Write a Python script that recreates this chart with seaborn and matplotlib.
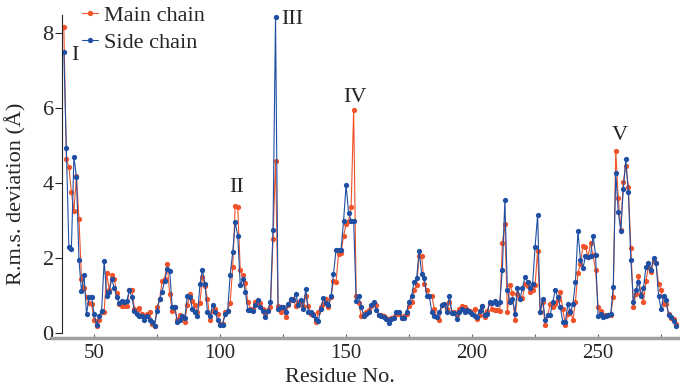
import matplotlib
matplotlib.use('Agg')
import matplotlib.pyplot as plt
import seaborn as sns
import pandas as pd

# r.m.s. deviation per residue
first_residue = 38
main_chain = [
    8.15, 4.63, 4.43, 3.75, 3.25, 4.20, 3.05, 1.45, 1.20, 0.95,
    0.80, 0.78, 0.35, 0.18, 0.35, 0.55, 0.57, 1.60, 1.15, 1.55,
    1.45, 1.07, 0.77, 0.73, 0.72, 0.72, 1.15, 1.15, 0.65, 0.62,
    0.68, 0.50, 0.45, 0.50, 0.55, 0.25, 0.20, 0.70, 0.90, 1.38,
    1.45, 1.85, 1.05, 0.60, 0.70, 0.35, 0.48, 0.40, 0.30, 0.75,
    1.05, 0.85, 0.75, 0.55, 0.80, 1.50, 1.25, 0.90, 0.35, 0.60,
    0.65, 0.50, 0.25, 0.25, 0.55, 0.60, 0.80, 1.75, 3.38, 3.35,
    1.68, 1.55, 1.34, 0.83, 0.65, 0.65, 0.83, 0.78, 0.80, 0.65,
    0.52, 0.61, 0.70, 2.50, 4.60, 0.72, 0.57, 0.61, 0.44, 0.75,
    0.88, 0.92, 0.72, 0.83, 0.85, 0.72, 0.99, 0.72, 0.50, 0.52,
    0.30, 0.57, 0.70, 0.77, 0.92, 0.70, 0.95, 1.39, 1.35, 2.10,
    2.14, 2.59, 2.90, 3.00, 3.35, 5.95, 0.99,
    0.80, 0.45, 0.52, 0.55, 0.62, 0.72, 0.78, 0.75, 0.48, 0.47,
    0.45, 0.40, 0.35, 0.40, 0.42, 0.50, 0.52, 0.40, 0.45, 0.52,
    0.72, 0.83, 1.15, 1.28, 2.05, 2.05, 1.30, 1.15, 0.99, 0.99,
    0.65, 0.43, 0.35, 0.75, 0.78, 0.65, 0.83, 0.57, 0.57, 0.48,
    0.65, 0.72, 0.70, 0.62, 0.60, 0.52, 0.65, 0.38, 0.48, 0.72,
    0.43, 0.60, 0.80, 0.65, 0.62, 0.62, 0.60, 2.39, 2.91, 0.57,
    1.28, 1.08, 0.35, 1.05, 0.93, 0.93, 1.30, 1.26, 1.10, 1.15,
    1.28, 2.20, 0.57, 0.83, 0.21, 0.48, 0.77, 0.70, 0.77, 0.88,
    1.10, 0.63, 0.21, 0.50, 0.60, 0.35, 0.83, 1.60, 1.85, 2.33,
    2.30, 2.02, 2.40, 2.07, 1.68, 0.70, 0.60, 0.48, 0.48, 0.48,
    0.48, 0.95, 4.86, 3.61, 2.75, 4.03, 4.46, 3.90, 2.26, 0.70,
    1.04, 1.51, 1.05, 0.83, 1.40, 1.77, 1.62, 1.93, 1.86, 1.30,
    1.15, 0.77, 0.77, 0.52, 0.39, 0.37, 0.25,
]
side_chain = [
    7.49, 4.94, 2.30, 2.25, 4.70, 4.15, 1.95, 1.12, 1.55, 0.50,
    0.95, 0.97, 0.50, 0.22, 0.45, 0.60, 1.92, 1.00, 1.10, 1.45,
    1.20, 0.95, 0.80, 0.85, 0.82, 0.85, 1.15, 0.95, 0.60, 0.50,
    0.45, 0.45, 0.35, 0.45, 0.35, 0.30, 0.20, 0.60, 0.90, 1.10,
    1.40, 1.70, 1.65, 0.70, 0.70, 0.30, 0.35, 0.45, 0.40, 0.98,
    0.95, 0.65, 0.55, 0.45, 1.30, 1.68, 1.30, 0.55, 0.45, 0.75,
    0.55, 0.35, 0.22, 0.22, 0.50, 0.60, 1.55, 2.15, 2.95, 2.60,
    1.28, 1.43, 1.10, 0.61, 0.61, 0.60, 0.75, 0.88, 0.70, 0.58,
    0.43, 0.58, 0.83, 2.75, 8.43, 0.65, 0.70, 0.70, 0.57, 0.77,
    0.90, 0.88, 1.05, 0.75, 0.88, 0.65, 1.17, 0.57, 0.57, 0.48,
    0.38, 0.33, 0.65, 0.93, 0.80, 0.75, 0.98, 1.57, 2.21, 2.21,
    2.22, 2.99, 3.95, 3.20, 3.00, 2.99, 0.85,
    1.00, 0.70, 0.45, 0.50, 0.55, 0.75, 0.83, 0.62, 0.47, 0.45,
    0.43, 0.38, 0.26, 0.38, 0.40, 0.55, 0.57, 0.40, 0.40, 0.57,
    0.83, 0.99, 1.37, 1.46, 2.19, 1.57, 1.46, 0.99, 0.98, 0.57,
    0.45, 0.43, 0.55, 0.75, 0.77, 0.57, 1.00, 0.53, 0.53, 0.38,
    0.57, 0.65, 0.57, 0.62, 0.55, 0.50, 0.45, 0.43, 0.60, 0.72,
    0.47, 0.52, 0.83, 0.80, 0.85, 0.78, 0.83, 1.68, 3.55, 1.15,
    0.83, 0.92, 0.52, 1.20, 0.92, 1.20, 1.50, 1.37, 1.20, 1.30,
    2.30, 3.15, 0.55, 0.92, 0.35, 0.48, 0.48, 0.83, 1.15, 0.95,
    0.70, 0.30, 0.30, 0.77, 0.57, 0.77, 1.35, 2.72, 1.96, 1.73,
    2.05, 2.04, 2.05, 2.60, 2.07, 0.45, 0.50, 0.42, 0.46, 0.48,
    0.50, 1.22, 4.27, 3.23, 2.73, 3.83, 4.63, 3.75, 1.96, 0.83,
    1.15, 1.35, 0.99, 1.20, 1.75, 1.86, 1.68, 2.01, 1.86, 1.00,
    0.63, 1.00, 0.88, 0.48, 0.43, 0.33, 0.20,
]
residues = list(range(first_residue, first_residue + len(main_chain)))

region_names = ['I', 'II', 'III', 'IV', 'V']

df = pd.DataFrame({'Residue': residues, 'Main chain': main_chain, 'Side chain': side_chain})

sns.set_style('ticks')
plt.rcParams['font.family'] = ['Liberation Serif', 'DejaVu Serif']

fig = plt.figure(figsize=(6.8, 3.87), dpi=100)
ax = fig.add_axes([52 / 680, 49 / 387, 628 / 680, 323 / 387])

sns.lineplot(data=df, x='Residue', y='Main chain', ax=ax, color='#f0522a',
             linewidth=0.8, marker='o', markersize=3.8, markeredgewidth=0,
             label='Main chain')
sns.lineplot(data=df, x='Residue', y='Side chain', ax=ax, color='#1f4fa3',
             linewidth=0.8, marker='o', markersize=3.8, markeredgewidth=0,
             label='Side chain')

ax.set_xlim(33.3, 282.5)
ax.set_ylim(-0.133, 8.48)

# region labels
label_pos = [(42.5, 7.41), (106.7, 3.89), (128.6, 8.35), (153.6, 6.29), (258.7, 5.28)]
for name, (lx, ly) in zip(region_names, label_pos):
    ax.text(lx, ly, name, fontsize=16, ha='center', va='center')

ax.spines['top'].set_visible(False)
ax.spines['right'].set_visible(False)
ax.spines['left'].set_position(('data', 37.3))
ax.spines['left'].set_bounds(0, 8.48)
ax.spines['left'].set_linewidth(0.8)
ax.spines['bottom'].set_color('#a0a0a0')
ax.spines['bottom'].set_linewidth(2.5)

ax.set_xticks([50, 100, 150, 200, 250])
ax.set_xticks([75, 125, 175, 225, 275], minor=True)
ax.set_yticks([0, 2, 4, 6, 8])
ax.tick_params(axis='x', which='both', direction='in', length=3, width=0.8,
               color='#666666', labelsize=15, pad=4)
ax.tick_params(axis='y', direction='out', length=5, width=0.8, labelsize=16, pad=1)

ax.set_xlabel('Residue No.', fontsize=16)
ax.set_ylabel('R.m.s. deviation (Å)', fontsize=16)
ax.xaxis.set_label_coords(0.459, -0.093)
ax.yaxis.set_label_coords(-0.04, 0.446)

ax.legend(loc='upper left', bbox_to_anchor=(30 / 628, 1.03), frameon=False,
          fontsize=16, handlelength=0.7, handletextpad=0.3, labelspacing=0.3,
          borderpad=0, borderaxespad=0)

plt.savefig('out.png', dpi=100)
